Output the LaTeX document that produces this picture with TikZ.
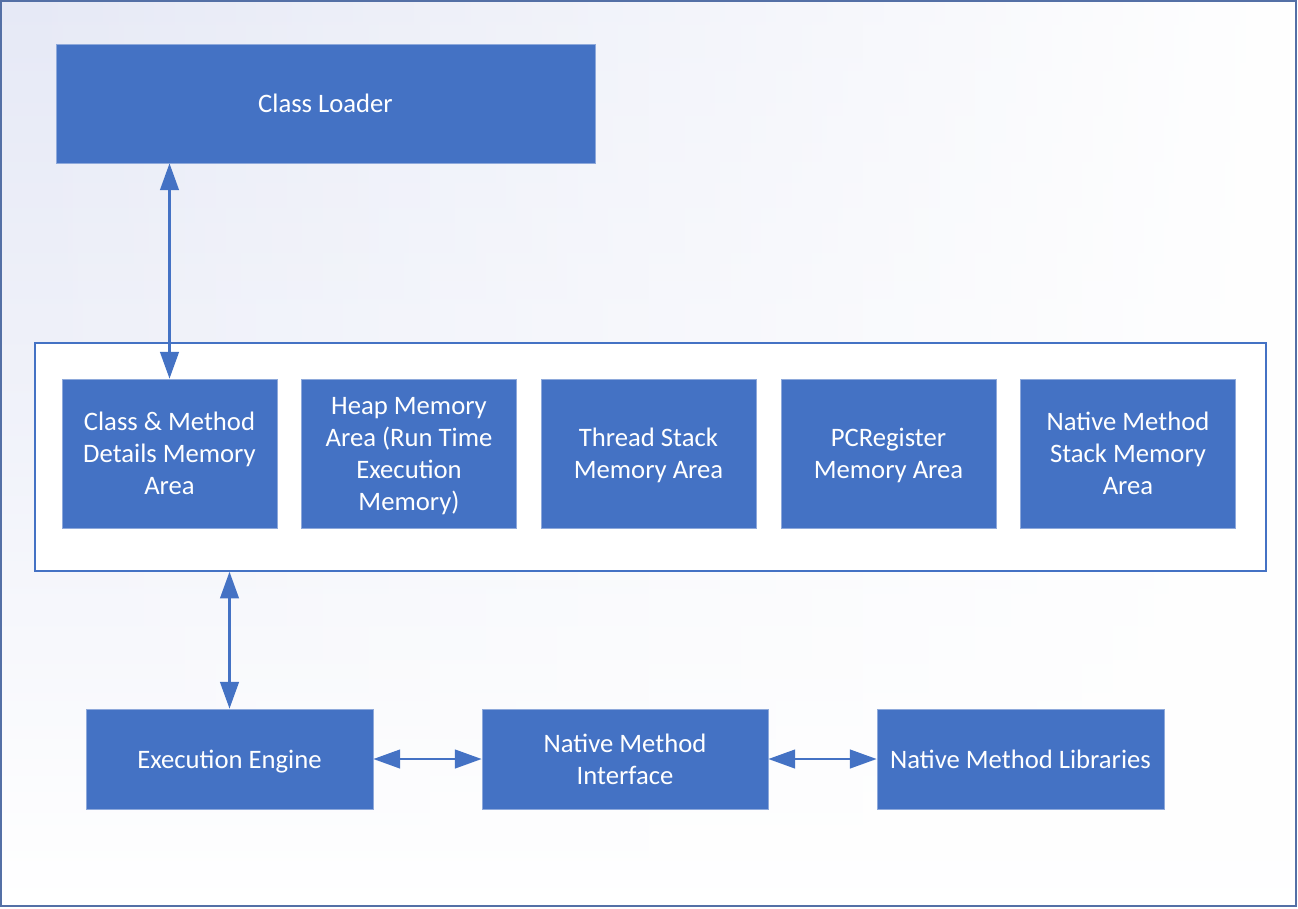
\documentclass[tikz,border=0pt]{standalone}
\usepackage{fontspec}
\setmainfont{Carlito}
\usetikzlibrary{arrows.meta,fadings}
\definecolor{boxblue}{HTML}{4472C4}
\definecolor{boxedge}{HTML}{8EA9DB}
\definecolor{frame}{HTML}{5470A6}
\definecolor{lav}{HTML}{E6E9F6}
\tikzset{
  box/.style={draw=boxedge, line width=0.6pt, fill=boxblue, text=white, align=center, inner sep=2pt,
    text depth=0pt, font={\fontsize{20pt}{24pt}\selectfont}},
  conn/.style={draw=boxblue, line width=1.6pt, {Triangle[length=20pt,width=14pt]}-{Triangle[length=20pt,width=14pt]}}
}
\begin{document}
\begin{tikzpicture}[x=0.75pt,y=-0.75pt]
\useasboundingbox (0,0) rectangle (1298,908);
\fill[white] (1,1) rectangle (1296,906);
\shade[top color=lav, bottom color=white, middle color=white!45!lav, path fading=east] (1,1) rectangle (1296,906);
\draw[frame, line width=1.4pt] (1,1) rectangle (1296,906);

\node[box, minimum width=404.25pt, minimum height=89.25pt] (cl) at (325.5,103.5) {Class Loader};

\node[draw=boxblue, line width=1.1pt, fill=white, minimum width=923.25pt, minimum height=171pt, inner sep=0pt] (mem) at (650.5,457) {};

\node[box, minimum width=161.25pt, minimum height=111.75pt] (cm) at (169.5,453.5) {Class \& Method\\Details Memory\\Area};
\node[box, minimum width=161.25pt, minimum height=111.75pt] (hp) at (409,453.5) {Heap Memory\\Area (Run Time\\Execution\\Memory)};
\node[box, minimum width=161.25pt, minimum height=111.75pt] (ts) at (648.5,453.5) {Thread Stack\\Memory Area};
\node[box, minimum width=161.25pt, minimum height=111.75pt] (pc) at (888.5,453.5) {PCRegister\\Memory Area};
\node[box, minimum width=161.25pt, minimum height=111.75pt] (nm) at (1128,453.5) {Native Method\\Stack Memory\\Area};

\node[box, minimum width=215.25pt, minimum height=75pt] (ee) at (229.5,759) {Execution Engine};
\node[box, minimum width=214.5pt, minimum height=75pt] (nmi) at (625,759) {Native Method\\Interface};
\node[box, minimum width=215.25pt, minimum height=75pt] (nml) at (1020.5,759) {Native Method Libraries};

\draw[conn] (cl.south -| cm.north) -- (cm.north);
\draw[conn] (mem.south -| ee.north) -- (ee.north);
\draw[conn] (ee.east) -- (nmi.west);
\draw[conn] (nmi.east) -- (nml.west);
\end{tikzpicture}
\end{document}
